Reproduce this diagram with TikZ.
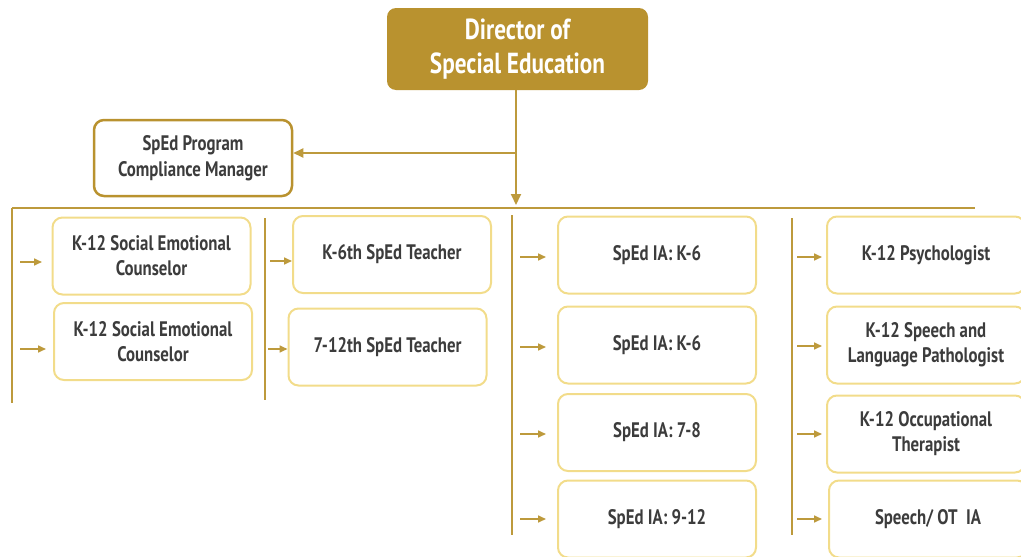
\documentclass[tikz,border=0pt]{standalone}
\usepackage{fontspec}
\setmainfont{PT Sans}[FakeStretch=0.8]
\usetikzlibrary{arrows.meta}

\definecolor{gold}{HTML}{B9922F}
\definecolor{goldline}{HTML}{BD9A3C}
\definecolor{paleline}{HTML}{F2DC8A}
\definecolor{textgray}{HTML}{3C3C3C}

\tikzstyle{director} = [rectangle,rounded corners=9pt,fill=gold,text=white,font=\fontsize{29}{34}\selectfont\bfseries,align=center,minimum width=261pt,minimum height=82pt,inner sep=0pt]
\tikzstyle{manager} = [rectangle,rounded corners=10pt,draw=gold,line width=2.5pt,text=textgray,font=\fontsize{21}{26}\selectfont\bfseries,align=center,minimum width=198pt,minimum height=76pt,inner sep=0pt]
\tikzstyle{staff} = [rectangle,rounded corners=10pt,draw=paleline,line width=2pt,text=textgray,font=\fontsize{21}{25}\selectfont\bfseries,align=center,minimum width=198pt,minimum height=77pt,inner sep=0pt]
\tikzstyle{link} = [draw=goldline,line width=2pt]
\tikzstyle{feed} = [draw=goldline,line width=1.6pt,-{Triangle[length=8pt,width=7pt]}]

\begin{document}
\begin{tikzpicture}[x=1pt,y=-1pt]
	\useasboundingbox (0,0) rectangle (1021,557);
	
	\node[director] (dir) at (517.5,49) {Director of\\Special Education};
	\node[manager] (mgr) at (193,158) {SpEd Program\\Compliance Manager};
	
	\coordinate (split) at (516,153);
	\coordinate (bus) at (516,205);
	\draw[link,-{Triangle[length=11pt,width=10pt]}] (dir.south -| split) -- (bus);
	\draw[link,-{Triangle[length=10pt,width=9pt]}] (split) -- (split -| mgr.east);
	
	% bus line and column lines
	\draw[link] (12,208) -- (975,208);
	\draw[link] (12,208) -- (12,403);
	\draw[link] (265,218) -- (265,400);
	\draw[link] (512,215) -- (512,535);
	\draw[link] (792,218) -- (792,535);
	
	% first column
	\node[staff] (sec1) at (151.5,256) {K-12 Social Emotional\\Counselor};
	\node[staff] (sec2) at (153,341.5) {K-12 Social Emotional\\Counselor};
	\coordinate (a11) at (20,262);
	\coordinate (a12) at (20,349);
	\draw[feed] (a11) -- (a11 -| 42,0);
	\draw[feed] (a12) -- (a12 -| 46,0);
	
	% second column
	\node[staff] (tk6) at (392,254.5) {K-6th SpEd Teacher};
	\node[staff] (t712) at (387.5,347) {7-12th SpEd Teacher};
	\coordinate (a21) at (270,261);
	\coordinate (a22) at (268,349);
	\draw[feed] (a21) -- (a21 -| tk6.west);
	\draw[feed] (a22) -- (a22 -| t712.west);
	
	% third column
	\node[staff] (ia1) at (657,255) {SpEd IA: K-6};
	\node[staff] (ia2) at (657,345) {SpEd IA: K-6};
	\node[staff] (ia3) at (657,432.5) {SpEd IA: 7-8};
	\node[staff] (ia4) at (657,519) {SpEd IA: 9-12};
	\coordinate (a31) at (520,257);
	\coordinate (a32) at (520,347);
	\coordinate (a33) at (520,434);
	\coordinate (a34) at (520,519);
	\draw[feed] (a31) -- (a31 -| 546,0);
	\draw[feed] (a32) -- (a32 -| 546,0);
	\draw[feed] (a33) -- (a33 -| 546,0);
	\draw[feed] (a34) -- (a34 -| 546,0);
	
	% fourth column
	\node[staff] (psy) at (926,255) {K-12 Psychologist};
	\node[staff] (slp) at (926,345) {K-12 Speech and\\Language Pathologist};
	\node[staff] (ot) at (926,434) {K-12 Occupational\\Therapist};
	\node[staff] (sot) at (928,519) {Speech/ OT\ \ IA};
	\coordinate (a41) at (797,257);
	\coordinate (a42) at (797,346);
	\coordinate (a43) at (797,434);
	\coordinate (a44) at (797,519);
	\draw[feed] (a41) -- (a41 -| 822,0);
	\draw[feed] (a42) -- (a42 -| 822,0);
	\draw[feed] (a43) -- (a43 -| 822,0);
	\draw[feed] (a44) -- (a44 -| 822,0);
\end{tikzpicture}
\end{document}
